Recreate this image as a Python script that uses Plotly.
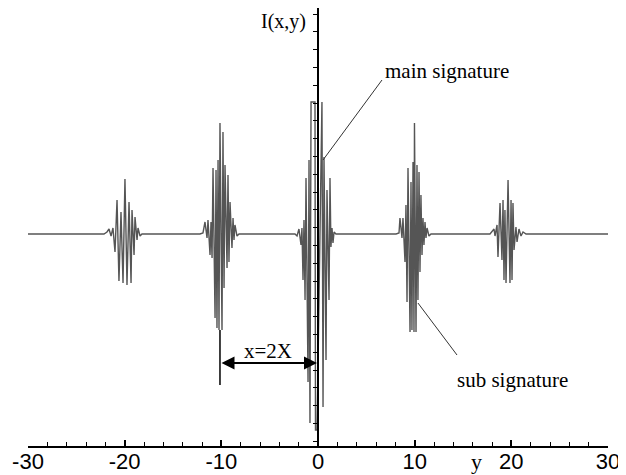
import plotly.graph_objects as go

# ---- data (y position, intensity extremes) ----
pk_m20_y = [-22.14, -21.83, -21.62, -21.41, -21.21, -21.00, -20.79, -20.59, -20.38, -20.17, -19.97,
            -19.76, -19.55, -19.34, -19.24, -19.03, -18.93, -18.72, -18.62, -18.41, -18.21]
pk_m20_I = [0, 0.02, 0.05, -0.02, 0.06, -0.18, 0.34, -0.47, 0.22, -0.49, 0.55,
            -0.51, 0.32, -0.49, 0.24, -0.21, 0.17, -0.06, 0.06, -0.02, 0]

pk_m10_y = [-12.21, -11.90, -11.69, -11.48, -11.38, -11.17, -11.07, -10.96, -10.86, -10.65, -10.55,
            -10.45, -10.34, -10.24, -10.14, -9.93, -9.83, -9.72, -9.62, -9.41, -9.31, -9.21, -9.10,
            -8.90, -8.79, -8.69, -8.59, -8.38, -8.17]
pk_m10_I = [0, 0.01, 0.12, -0.04, 0.14, -0.21, 0.12, -0.24, 0.66, -0.84, 0.64,
            -0.94, 0.74, -0.96, 1.11, -0.96, 1.02, -0.54, 0.69, -0.34, 0.59, -0.28, 0.32,
            -0.14, 0.16, -0.06, 0.09, -0.02, 0]

pk_0_y = [-2.38, -2.17, -1.97, -1.76, -1.66, -1.55, -1.45, -1.34, -1.24, -1.03, -0.93, -0.83,
          -0.72, -0.31, -0.26, -0.10, 0.41, 0.52, 0.62, 0.83, 0.93, 1.14, 1.24, 1.34, 1.45,
          1.55, 1.66, 1.86]
pk_0_I = [0, -0.02, 0.05, -0.11, 0.06, -0.46, 0.14, -0.66, 0.56, -1.48, 0.74, -1.89,
          1.32, 1.32, -1.96, -1.96, 1.32, -1.73, 0.77, -1.26, 0.44, -0.66, 0.56, -0.13, 0.06,
          -0.09, 0.02, 0]

pk_10_y = [8.07, 8.38, 8.48, 8.69, 8.79, 9.00, 9.10, 9.21, 9.31, 9.52, 9.62, 9.72, 9.83, 9.93,
           9.98, 10.14, 10.24, 10.34, 10.45, 10.55, 10.65, 10.76, 10.86, 10.96, 11.07, 11.17,
           11.28, 11.48, 11.69]
pk_10_I = [0, 0.01, 0.16, -0.04, 0.16, -0.28, 0.29, -0.68, 0.66, -0.98, 0.52, -0.96, 0.72, -0.98,
           1.11, -0.98, 0.69, -0.66, 0.62, -0.38, 0.39, -0.21, 0.16, -0.11, 0.12, -0.04,
           0.06, -0.02, 0]

pk_20_y = [17.79, 18.00, 18.21, 18.31, 18.52, 18.62, 18.83, 19.03, 19.14, 19.24, 19.34, 19.45,
           19.66, 19.86, 19.97, 20.07, 20.17, 20.28, 20.48, 20.59, 20.79, 21.00, 21.21, 21.52]
pk_20_I = [0, 0.02, 0.05, -0.02, 0.09, -0.23, 0.31, -0.26, 0.34, -0.46, 0.24, -0.49,
           0.54, -0.49, 0.34, -0.46, 0.31, -0.16, 0.07, -0.08, 0.05, -0.02, 0.02, 0]

y_start, y_end = -30, 30
x_tick_vals = [-30, -20, -10, 0, 10, 20, 30]
x_tick_text = ["-30", "-20", "-10", "0", "10", "20", "30"]

ys = [y_start] + pk_m20_y + pk_m10_y + pk_0_y + pk_10_y + pk_20_y + [y_end]
Is = [0] + pk_m20_I + pk_m10_I + pk_0_I + pk_10_I + pk_20_I + [0]

W, H = 626, 475
OFF = 8  # page body margin offset
serif = "Liberation Serif, Times New Roman, serif"
sans = "Liberation Sans, Arial, sans-serif"

fig = go.Figure()
fig.add_trace(go.Scatter(x=ys, y=Is, mode="lines",
                         line=dict(color="#555555", width=1.4),
                         hoverinfo="skip", showlegend=False))

fig.update_layout(
    width=W, height=H,
    margin=dict(l=0, r=0, t=0, b=0, pad=0),
    paper_bgcolor="white", plot_bgcolor="white",
    xaxis=dict(domain=[(28 - OFF) / W, (608 - OFF) / W], range=[-30, 30], anchor="y",
               automargin=False,
               showgrid=False, zeroline=False,
               showline=True, linecolor="black", linewidth=1.5,
               ticks="inside", ticklen=6, tickwidth=1.5, tickcolor="black",
               tickvals=x_tick_vals, ticktext=x_tick_text,
               ticklabelstandoff=-5,
               tickfont=dict(family=sans, size=22, color="black"),
               minor=dict(dtick=2, tick0=0, ticks="inside", ticklen=4,
                          tickwidth=1, tickcolor="black")),
    yaxis=dict(domain=[(H - (446 - OFF)) / H, 1.0], range=[-2.12, 2.26], anchor="free",
               position=(318 - OFF) / W, side="left", automargin=False,
               showgrid=False, zeroline=False,
               showline=True, linecolor="black", linewidth=2,
               ticks="outside", ticklen=4, tickwidth=1, tickcolor="black",
               tick0=2.20, dtick=0.178, showticklabels=False),
)

# pointer lines
fig.add_shape(type="line", xref="x", yref="y", x0=0.52, y0=0.74, x1=6.62, y1=1.54,
              line=dict(color="#333333", width=1))
fig.add_shape(type="line", xref="x", yref="y", x0=10.34, y0=-0.69, x1=14.38, y1=-1.21,
              line=dict(color="#333333", width=1))
# dimension line
fig.add_shape(type="line", xref="x", yref="y", x0=-10.14, y0=-0.96, x1=-10.14, y1=-1.51,
              line=dict(color="black", width=1.5))
fig.add_annotation(x=-0.1, y=-1.29, ax=-10.14, ay=-1.29, xref="x", yref="y",
                   axref="x", ayref="y", text="", showarrow=True,
                   arrowhead=2, arrowside="end+start", arrowsize=1.3, arrowwidth=2,
                   arrowcolor="black")

fig.add_annotation(x=-5.17, y=-1.17, xref="x", yref="y", text="x=2X", showarrow=False,
                   xanchor="center", yanchor="middle",
                   font=dict(family=serif, size=21, color="black"))
fig.add_annotation(x=13.34, y=1.63, xref="x", yref="y", text="main signature", showarrow=False,
                   xanchor="center", yanchor="middle",
                   font=dict(family=serif, size=21, color="black"))
fig.add_annotation(x=20.17, y=-1.46, xref="x", yref="y", text="sub signature", showarrow=False,
                   xanchor="center", yanchor="middle",
                   font=dict(family=serif, size=21, color="black"))
fig.add_annotation(x=(283 - OFF) / W, y=1 - (21 - OFF) / H, xref="paper", yref="paper",
                   text="I(x,y)", showarrow=False, xanchor="center", yanchor="middle",
                   font=dict(family=serif, size=20, color="black"))
fig.add_annotation(x=(476 - OFF) / W, y=1 - (461 - OFF) / H, xref="paper", yref="paper",
                   text="y", showarrow=False, xanchor="center", yanchor="middle",
                   font=dict(family=serif, size=22, color="black"))

fig.write_html("out.html")
